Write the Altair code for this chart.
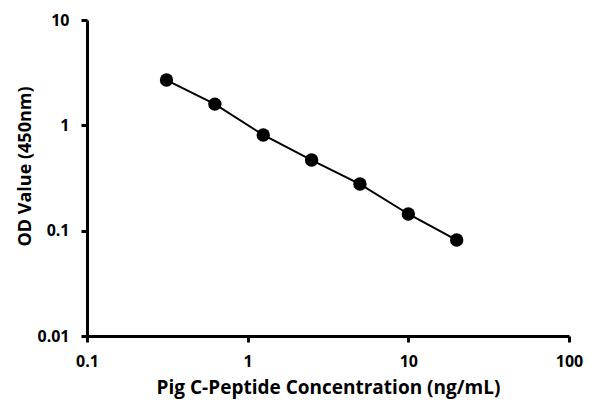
import altair as alt
import pandas as pd

conc = [0.3125, 0.625, 1.25, 2.5, 5, 10, 20]
od = [2.69, 1.59, 0.81, 0.468, 0.277, 0.144, 0.0815]

df = pd.DataFrame({"conc": conc, "od": od})

xscale = alt.Scale(type="log", domain=[0.1, 100])
yscale = alt.Scale(type="log", domain=[0.01, 10])

xaxis = alt.Axis(title="Pig C-Peptide Concentration (ng/mL)", values=[0.1, 1, 10, 100],
                 format="~g", grid=False, labelFlush=False, labelPadding=11,
                 titleFontSize=19, titlePadding=9)
yaxis = alt.Axis(title="OD Value (450nm)", values=[0.01, 0.1, 1, 10], format="~g",
                 grid=False, labelFlush=False, labelPadding=12, titleFontSize=18,
                 titlePadding=2, titleY=146)

base = alt.Chart(df).encode(
    x=alt.X("conc:Q", scale=xscale, axis=xaxis),
    y=alt.Y("od:Q", scale=yscale, axis=yaxis),
)

line = base.mark_line(color="black", strokeWidth=2)
pts = base.mark_circle(color="black", opacity=1, size=180)

chart = (line + pts).properties(
    width=482, height=316,
    autosize=alt.AutoSizeParams(type="none"),
    padding={"left": 79, "top": 12, "right": 20, "bottom": 64},
).configure_view(stroke=None).configure_axis(
    domainColor="black", domainWidth=3, tickColor="black", tickWidth=3, tickSize=6,
    labelFont="Open Sans", labelFontWeight="bold", labelFontSize=16, labelColor="black",
    titleFont="Open Sans", titleFontWeight="bold", titleColor="black",
)

chart.save("out.html", embed_options={"renderer": "svg", "actions": False})
